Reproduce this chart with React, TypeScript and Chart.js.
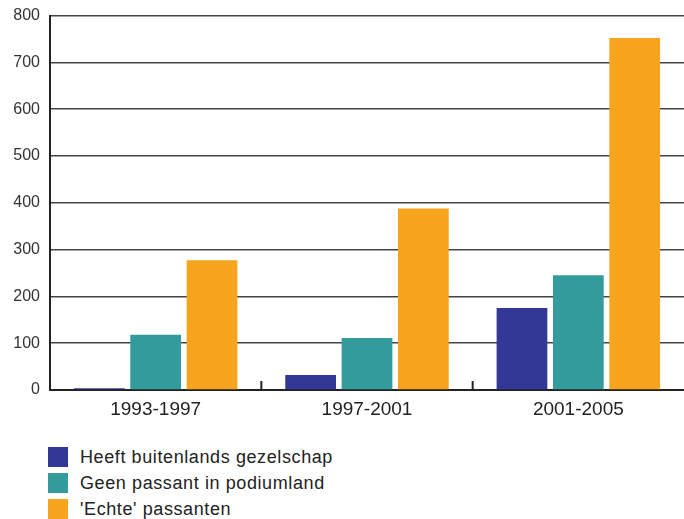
import React, { useEffect, useRef } from "react";
import { Chart, registerables } from "chart.js";

Chart.register(...registerables);

const categories = ["1993-1997", "1997-2001", "2001-2005"];
const seriesNames = [
  "Heeft buitenlands gezelschap",
  "Geen passant in podiumland",
  "'Echte' passanten",
];
const buitenlands = [4, 32, 175];
const geenPassant = [118, 111, 245];
const echtePassanten = [277, 388, 752];
const yTicks = [0, 100, 200, 300, 400, 500, 600, 700, 800];
const colors = ["#333896", "#339b9b", "#f7a51e"];

const FONT = "'Liberation Sans', Arial, Helvetica, sans-serif";

const boundaryTicks = {
  id: "boundaryTicks",
  afterDatasetsDraw(chart: any) {
    const x = chart.scales.x;
    const bottom = chart.chartArea.bottom;
    const ctx = chart.ctx;
    ctx.save();
    ctx.strokeStyle = "#222";
    ctx.lineWidth = 2;
    for (let i = 1; i < categories.length; i++) {
      const px = (x.getPixelForValue(i - 1) + x.getPixelForValue(i)) / 2;
      ctx.beginPath();
      ctx.moveTo(px, bottom);
      ctx.lineTo(px, bottom - 9);
      ctx.stroke();
    }
    ctx.restore();
  },
};

export default function App() {
  const ref = useRef<HTMLCanvasElement>(null);
  useEffect(() => {
    document.body.style.margin = "0";
    const chart = new Chart(ref.current!, {
      type: "bar",
      data: {
        labels: categories,
        datasets: [
          { label: seriesNames[0], data: buitenlands, backgroundColor: colors[0] },
          { label: seriesNames[1], data: geenPassant, backgroundColor: colors[1] },
          { label: seriesNames[2], data: echtePassanten, backgroundColor: colors[2] },
        ],
      },
      options: {
        responsive: false,
        animation: false,
        layout: { padding: { top: 5, right: 0, left: 0, bottom: 0 } },
        datasets: { bar: { categoryPercentage: 0.8, barPercentage: 0.9 } },
        plugins: { legend: { display: false }, tooltip: { enabled: false } },
        scales: {
          x: {
            grid: { display: false, drawTicks: false },
            border: { color: "#222", width: 2 },
            ticks: { color: "#222", font: { family: FONT, size: 19 }, padding: 8 },
            afterFit: (s: any) => {
              s.height = 40;
            },
          },
          y: {
            min: 0,
            max: 800,
            afterBuildTicks: (s: any) => {
              s.ticks = yTicks.map((v) => ({ value: v }));
            },
            grid: { color: "#444", lineWidth: 1.5, drawTicks: false },
            border: { color: "#222", width: 2 },
            ticks: { color: "#333", font: { family: FONT, size: 16 }, padding: 10 },
            afterFit: (s: any) => {
              s.width = 50;
            },
          },
        },
      },
      plugins: [boundaryTicks],
    });
    return () => chart.destroy();
  }, []);

  return (
    <div style={{ position: "relative", width: 684, height: 519, overflow: "hidden", fontFamily: FONT }}>
      <canvas ref={ref} width={684} height={434} style={{ display: "block", marginTop: -4 }} />
      <div style={{ position: "absolute", left: 48, top: 444 }}>
        {seriesNames.map((n, i) => (
          <div key={n} style={{ display: "flex", alignItems: "center", height: 26 }}>
            <span style={{ width: 20, height: 20, background: colors[i], display: "inline-block", marginRight: 12, flex: "none" }} />
            <span style={{ fontSize: 18, letterSpacing: "0.6px", color: "#222", lineHeight: "20px", whiteSpace: "nowrap" }}>{n}</span>
          </div>
        ))}
      </div>
    </div>
  );
}
